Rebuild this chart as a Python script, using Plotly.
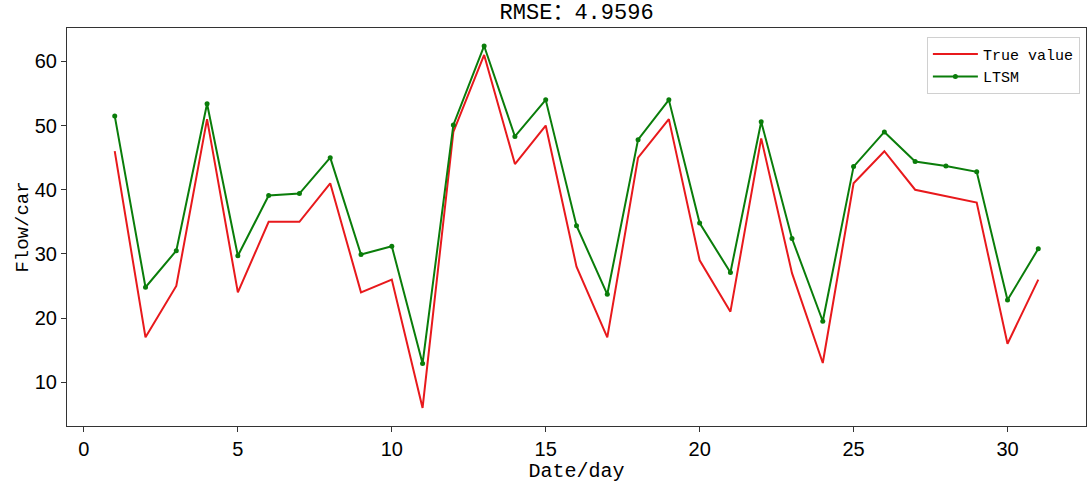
import plotly.graph_objects as go

days = list(range(1, 32))
true_value = [46, 17, 25, 51, 24, 35, 35, 41, 24, 26, 6, 49, 61, 44, 50, 28, 17, 45, 51, 29,
              21, 48, 27, 13, 41, 46, 40, 39, 38, 16, 26]
ltsm = [51.5, 24.8, 30.5, 53.4, 29.7, 39.1, 39.4, 45.0, 29.9, 31.2, 12.9, 50.1, 62.4, 48.3, 54.0,
        34.4, 23.7, 47.8, 54.0, 34.8, 27.1, 50.6, 32.4, 19.5, 43.6, 49.0, 44.4, 43.7, 42.8, 22.8, 30.8]
x_ticks = [0, 5, 10, 15, 20, 25, 30]
y_ticks = [10, 20, 30, 40, 50, 60]
title_text = "RMSE：4.9596"

fig = go.Figure()
fig.add_trace(go.Scatter(x=days, y=true_value, mode="lines", name="True value",
                         line=dict(color="#e8191c", width=2)))
fig.add_trace(go.Scatter(x=days, y=ltsm, mode="lines+markers", name="LTSM",
                         line=dict(color="#0a7d0a", width=2),
                         marker=dict(size=5, color="#0a7d0a")))

mono = "Liberation Mono, Noto Sans CJK SC, monospace"
fig.update_layout(
    width=1088, height=486,
    margin=dict(l=67, r=2, t=28, b=60, autoexpand=False),
    paper_bgcolor="white", plot_bgcolor="white",
    title=dict(text=title_text, x=0.530, xanchor="center", y=0.993, yanchor="top",
               font=dict(family=mono, size=22, color="black")),
    legend=dict(x=0.994, y=0.978, xanchor="right", yanchor="top",
                bgcolor="rgba(255,255,255,0.8)", bordercolor="#d0d0d0", borderwidth=1,
                font=dict(family=mono, size=15, color="black"),
                itemwidth=45, tracegroupgap=2),
    showlegend=True,
)
fig.update_xaxes(range=[-0.55, 32.55], tickvals=x_ticks, ticks="outside", ticklen=5,
                 tickcolor="#333", showline=True, linecolor="#333", linewidth=1.2, mirror=True,
                 showgrid=False, zeroline=False, automargin=False,
                 tickfont=dict(family="Liberation Sans, Arial", size=20, color="black"),
                 title=dict(text="Date/day", font=dict(family=mono, size=20, color="black"),
                            standoff=2))
fig.update_yaxes(range=[3.18, 65.2], tickvals=y_ticks, ticks="outside", ticklen=5,
                 tickcolor="#333", showline=True, linecolor="#333", linewidth=1.2, mirror=True,
                 showgrid=False, zeroline=False, automargin=False,
                 tickfont=dict(family="Liberation Sans, Arial", size=20, color="black"),
                 title=dict(text="Flow/car", font=dict(family=mono, size=19, color="black"),
                            standoff=1))

fig.write_html("out.html", config={"displayModeBar": False},
               post_script="document.body.style.margin='0';")
